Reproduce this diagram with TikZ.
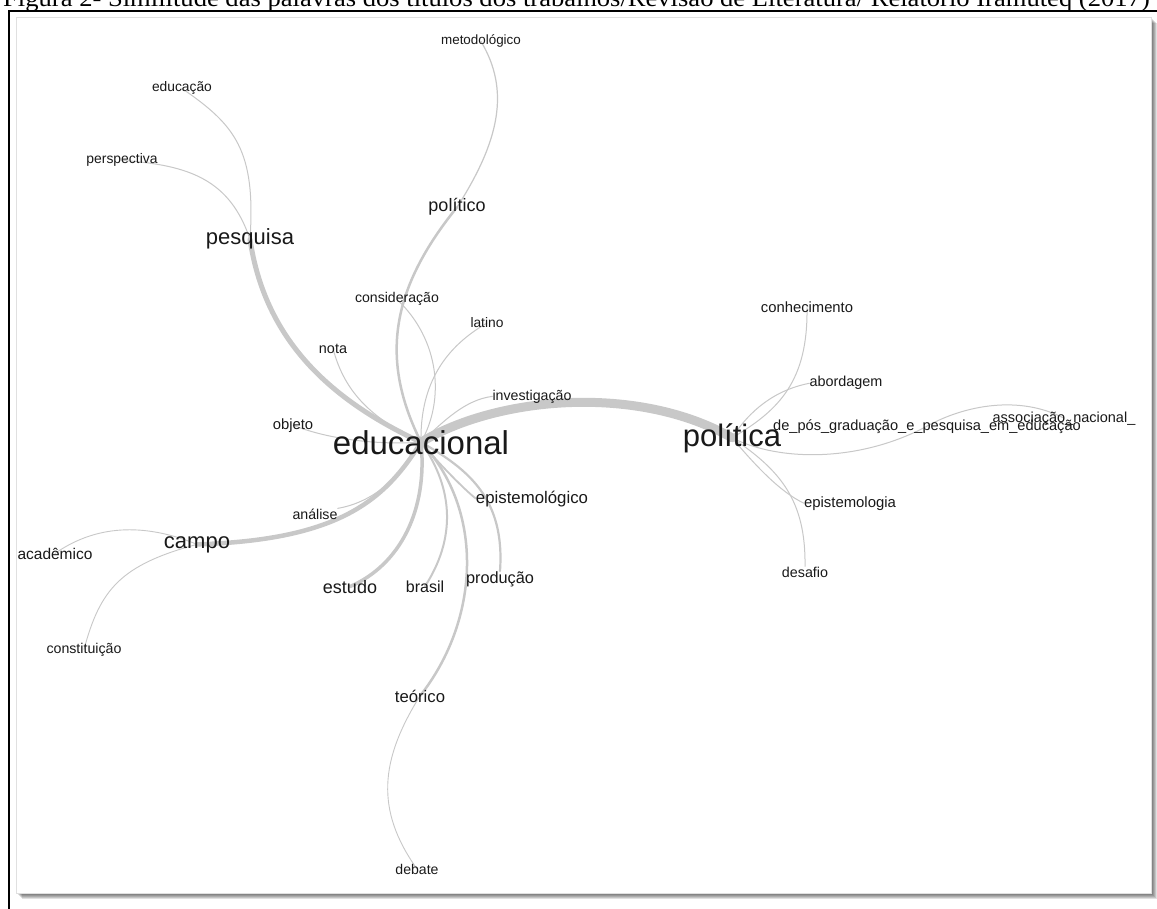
\documentclass[tikz,border=0pt]{standalone}
\usepackage{fontspec}
\setmainfont{Liberation Serif}
\newfontfamily\rotulo{Liberation Sans}
\usetikzlibrary{positioning}
\definecolor{arestacor}{RGB}{200,200,200}
\pgfdeclarelayer{fundo}
\pgfdeclarelayer{arestas}
\pgfsetlayers{fundo,arestas,main}

\begin{document}
\begin{tikzpicture}[x=1pt,y=-1pt,
	termo/.style={font={\rotulo\fontsize{#1}{#1}\selectfont}, inner sep=0pt, anchor=base, text=black!90},
	aresta/.style={draw=arestacor, line width=#1, line cap=round},
	aresta/.default=1]
\useasboundingbox (0,0) rectangle (1157,909);
\clip (0,0) rectangle (1157,909);

\node[anchor=base west, inner sep=0pt, xscale=1.085, font=\fontsize{24.5}{26}\selectfont] (legenda) at (3,6.5)
	{Figura 2- Similitude das palavras dos títulos dos trabalhos/Revisão de Literatura/ Relatório Iramuteq (2017)};

% palavras
\node[termo=33] (edu) at (421,454) {educacional};
\node[termo=31] (pol) at (732,446) {política};
\node[termo=22] (pesq) at (250,245) {pesquisa};
\node[termo=22] (campo) at (197,548) {campo};
\node[termo=18] (estudo) at (350,593) {estudo};
\node[termo=18] (politico) at (457,212) {político};
\node[termo=16] (brasil) at (425,592) {brasil};
\node[termo=16.3] (prod) at (500,583) {produção};
\node[termo=16.8] (epist) at (532,503) {epistemológico};
\node[termo=16.7] (teorico) at (420,702) {teórico};
\node[termo=14.1] (debate) at (417,874) {debate};
\node[termo=13.4] (metod) at (481,45) {metodológico};
\node[termo=13.8] (educacao) at (182,92) {educação};
\node[termo=13.9] (perspec) at (122,164) {perspectiva};
\node[termo=14.1] (consid) at (397,303) {consideração};
\node[termo=13.8] (latino) at (487,328) {latino};
\node[termo=14.4] (nota) at (333,353) {nota};
\node[termo=14.8] (objeto) at (293,429) {objeto};
\node[termo=14.2] (invest) at (532,400) {investigação};
\node[termo=14.2] (analise) at (315,519) {análise};
\node[termo=15.5] (academ) at (55,559) {acadêmico};
\node[termo=14.2] (constit) at (84,653) {constituição};
\node[termo=14.8] (conhec) at (807,313) {conhecimento};
\node[termo=14.4] (abord) at (846,387) {abordagem};
\node[termo=14.6] (depos) at (927,430) {de\_pós\_graduação\_e\_pesquisa\_em\_educação};
\node[termo=14.5] (assoc) at (1064,422) {associação\_nacional\_};
\node[termo=14.9] (epistmg) at (850,507) {epistemologia};
\node[termo=14.3] (desafio) at (805,577) {desafio};

\begin{pgfonlayer}{fundo}
\fill[white] (0,0) rectangle (1157,909);
\foreach \k in {1,...,6}
	\fill[black, opacity=0.12] (16+\k,17+\k) rectangle (1151+\k,893+\k);
\fill[white] (16,17) rectangle (1151,893);
\draw[black!12] (16,17) rectangle (1151,893);
\draw[line width=2.5] (9,912) -- (9,11) -- (1160,11);
\end{pgfonlayer}

\begin{pgfonlayer}{arestas}
% educacional
\draw[aresta=9] (edu.center) .. controls (500,395) and (640,385) .. (pol.center);
\draw[aresta=5] (edu.center) .. controls (330,400) and (265,340) .. (pesq.center);
\draw[aresta=4.5] (edu.center) .. controls (385,500) and (340,540) .. (campo.center);
\draw[aresta=3.5] (edu.center) .. controls (428,510) and (400,565) .. (estudo.center);
\draw[aresta=2.5] (edu.center) .. controls (380,360) and (390,290) .. (politico.center);
\draw[aresta=2.5] (edu.center) .. controls (485,510) and (480,620) .. (teorico.center);
\draw[aresta=2] (edu.center) .. controls (455,490) and (455,540) .. (brasil.center);
\draw[aresta=2.2] (edu.center) .. controls (470,470) and (505,500) .. (prod.north);
\draw[aresta=1.8] (edu.center) .. controls (440,465) and (465,490) .. (epist.west);
\draw[aresta] (edu.center) .. controls (445,420) and (465,400) .. (invest.west);
\draw[aresta] (consid.center) .. controls (440,340) and (445,400) .. (edu.center);
\draw[aresta] (latino.center) .. controls (440,350) and (420,390) .. (edu.center);
\draw[aresta] (nota.center) .. controls (345,395) and (375,420) .. (edu.center);
\draw[aresta] (objeto.center) .. controls (330,440) and (380,445) .. (edu.center);
\draw[aresta] (analise.north east) .. controls (370,503) and (400,480) .. (edu.center);
\draw[aresta=1.2] (politico.center) .. controls (500,140) and (510,90) .. (metod.center);
\draw[aresta=0.9] (teorico.center) .. controls (380,760) and (375,810) .. (debate.center);
% pesquisa e campo
\draw[aresta] (pesq.center) .. controls (256,150) and (235,125) .. (educacao.center);
\draw[aresta] (pesq.center) .. controls (230,180) and (190,165) .. (perspec.center);
\draw[aresta=0.9] (campo.center) .. controls (150,525) and (100,522) .. (academ.center);
\draw[aresta=0.9] (campo.center) .. controls (120,565) and (100,590) .. (constit.center);
% politica
\draw[aresta] (pol.center) .. controls (780,410) and (808,380) .. (conhec.center);
\draw[aresta] (pol.center) .. controls (750,410) and (775,390) .. (abord.west);
\draw[aresta] (pol.center) .. controls (780,462) and (860,462) .. (depos.center)
	.. controls (965,405) and (1020,395) .. (assoc.center);
\draw[aresta] (pol.center) .. controls (755,465) and (780,492) .. (epistmg.west);
\draw[aresta] (pol.center) .. controls (780,470) and (806,500) .. (desafio.north);
\end{pgfonlayer}

\end{tikzpicture}
\end{document}
